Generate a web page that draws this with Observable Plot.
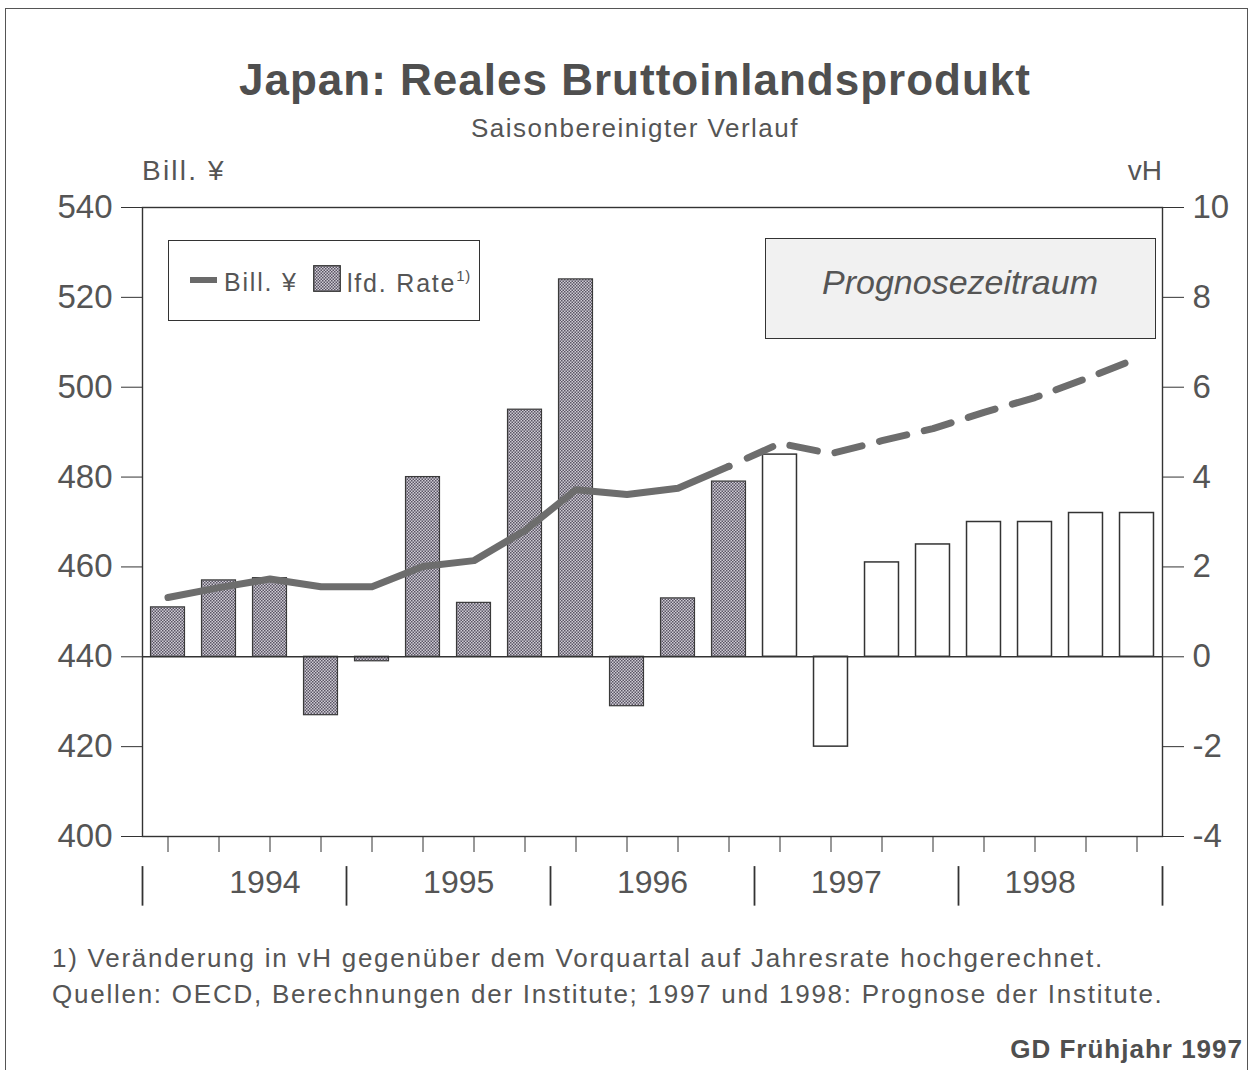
<!DOCTYPE html>
<html>
<head>
<meta charset="utf-8">
<script src="https://cdn.jsdelivr.net/npm/d3@7"></script>
<script src="https://cdn.jsdelivr.net/npm/@observablehq/plot@0.6"></script>
<style>
  body { margin: 0; background: #fff; }
  #wrap { position: relative; width: 1254px; height: 1070px; overflow: hidden;
          font-family: "Liberation Sans", Arial, sans-serif; color: #555; background: #fff; }
  .t { position: absolute; white-space: nowrap; line-height: 1; }
  #chart { position: absolute; left: 0; top: 0; }
  #border { position: absolute; left: 5px; top: 8px; width: 1243px; height: 1100px;
            border: 1.5px solid #555; box-sizing: border-box; }
  #legend { position: absolute; left: 168px; top: 240px; width: 312px; height: 81px;
            border: 1.5px solid #333; box-sizing: border-box; background: #fff; }
  #prog { position: absolute; left: 765px; top: 238px; width: 391px; height: 101px;
          border: 1.5px solid #333; box-sizing: border-box; background: #f1f1f1; }
</style>
</head>
<body>
<div id="wrap">
  <div id="border"></div>
  <div id="chart"></div>
  <div class="t" id="title" style="left:0;width:1270px;text-align:center;top:58px;font-size:44px;font-weight:bold;letter-spacing:1px;color:#4f4f4f;">Japan: Reales Bruttoinlandsprodukt</div>
  <div class="t" id="subtitle" style="left:0;width:1270px;text-align:center;top:115px;font-size:26px;letter-spacing:1.5px;">Saisonbereinigter Verlauf</div>
  <div class="t" style="left:142px;top:157px;font-size:28px;letter-spacing:2.2px;">Bill. ¥</div>
  <div class="t" style="left:1100px;width:62px;text-align:right;top:157px;font-size:28px;">vH</div>
  <div id="legend">
    <div style="position:absolute;left:21px;top:36px;width:27px;height:6px;background:#6a6a6a;"></div>
    <div class="t" style="left:55px;top:29px;font-size:25px;letter-spacing:1.8px;">Bill. ¥</div>
    <svg style="position:absolute;left:144px;top:24px;" width="28" height="27">
      <defs>
        <pattern id="dotsL" width="3" height="3" patternUnits="userSpaceOnUse">
          <rect width="3" height="3" fill="#cfccd4"></rect>
          <rect width="1.5" height="1.5" fill="#5a5464"></rect>
          <rect x="1.5" y="1.5" width="1.5" height="1.5" fill="#5a5464"></rect>
        </pattern>
      </defs>
      <rect x="0.75" y="0.75" width="26.5" height="25.5" fill="url(#dotsL)" stroke="#333" stroke-width="1.3"></rect>
    </svg>
    <div class="t" style="left:178px;top:29px;font-size:25px;letter-spacing:1.8px;">lfd. Rate<sup style="font-size:15px;position:relative;top:-2px;letter-spacing:0.5px;">1)</sup></div>
  </div>
  <div id="prog">
    <div class="t" style="left:0;width:388px;text-align:center;top:26px;font-size:34px;font-style:italic;color:#555;">Prognosezeitraum</div>
  </div>
  <div class="t" style="left:52px;top:945px;font-size:26px;letter-spacing:1.75px;">1) Veränderung in vH gegenüber dem Vorquartal auf Jahresrate hochgerechnet.</div>
  <div class="t" style="left:52px;top:981px;font-size:26px;letter-spacing:1.75px;">Quellen: OECD, Berechnungen der Institute; 1997 und 1998: Prognose der Institute.</div>
  <div class="t" style="left:0;width:1243px;text-align:right;top:1036px;font-size:26px;font-weight:bold;letter-spacing:1px;color:#4f4f4f;">GD Frühjahr 1997</div>
</div>
<script>
// ---- data ----
const years = [1994, 1995, 1996, 1997, 1998];
const quarterNames = ["I", "II", "III", "IV"];
// real GDP, trillion yen (left axis)
const bill = [453.2, 455.4, 457.3, 455.6, 455.6, 460.1, 461.4, 468.1,
              477.2, 476.1, 477.5, 482.4, 487.5, 485.2, 488.1, 490.8,
              494.4, 497.7, 501.9, 506.4];
// annualised quarter-on-quarter rate, vH (right axis)
const rate = [1.1, 1.7, 1.75, -1.3, -0.1, 4.0, 1.2, 5.5,
              8.4, -1.1, 1.3, 3.9, 4.5, -2.0, 2.1, 2.5,
              3.0, 3.0, 3.2, 3.2];
const forecastFromYear = 1997;
const leftTicks = [400, 420, 440, 460, 480, 500, 520, 540];
const rightTicks = [-4, -2, 0, 2, 4, 6, 8, 10];

// ---- table ----
const rows = [];
years.forEach((y, yi) => quarterNames.forEach((q, qi) => {
  const i = yi * 4 + qi;
  rows.push({i, year: y, quarter: q, bill: bill[i], rate: rate[i], forecast: y >= forecastFromYear});
}));
const hist = rows.filter(d => !d.forecast);
const fc = rows.filter(d => d.forecast);
const lastHist = hist[hist.length - 1];
const lineFc = [lastHist, ...fc];
// left axis value -> shared (vH) scale
const toRate = v => (v - 440) / 10;
const barPad = 0.167;

const chart = Plot.plot({
  width: 1254,
  height: 1070,
  marginLeft: 142,
  marginRight: 92,
  marginTop: 207,
  marginBottom: 234,
  x: {domain: [0, rows.length], axis: null},
  y: {domain: [-4, 10], axis: null},
  style: {fontFamily: "Liberation Sans, Arial, sans-serif", color: "#555", background: "transparent", overflow: "visible"},
  marks: [
    Plot.rectY(hist, {x1: d => d.i + barPad, x2: d => d.i + 1 - barPad, y1: 0, y2: "rate",
      fill: "url(#dots)", stroke: "#3a3a3a", strokeWidth: 1.2}),
    Plot.rectY(fc, {x1: d => d.i + barPad, x2: d => d.i + 1 - barPad, y1: 0, y2: "rate",
      fill: "white", stroke: "#333", strokeWidth: 1.5}),
    Plot.ruleY([0], {stroke: "#333", strokeWidth: 1.6}),
    Plot.frame({stroke: "#333", strokeWidth: 1.4}),
    Plot.lineY(hist, {x: d => d.i + 0.5, y: d => toRate(d.bill), stroke: "#6d6d6d", strokeWidth: 7, strokeLinejoin: "round"}),
    Plot.lineY(lineFc, {x: d => d.i + 0.5, y: d => toRate(d.bill), stroke: "#6d6d6d", strokeWidth: 7,
      strokeDasharray: "0,20,28,18,28,18,28,18,28,18,28,18,28,18,28,18,28,18,28,18,28,18,28,18,28,18,28,18,28,18"}),
    Plot.axisY(leftTicks.map(toRate), {anchor: "left", label: null, tickSize: 21, tickPadding: 9,
      tickFormat: d => String(440 + 10 * d), fontSize: 33, stroke: "#333", fill: "#555"}),
    Plot.axisY(rightTicks, {anchor: "right", label: null, tickSize: 21, tickPadding: 9,
      tickFormat: d => String(d), fontSize: 33, stroke: "#333", fill: "#555"}),
    Plot.axisX(rows.map(d => d.i + 0.5), {anchor: "bottom", label: null, tickSize: 16, tickFormat: () => "", stroke: "#333"}),
    Plot.ruleX(d3.range(0, rows.length + 1, 4), {y1: -4.67, y2: -5.55, stroke: "#333", strokeWidth: 1.8}),
    // year labels sit slightly inward of each year's centre, as in the original layout
    Plot.text(years, {x: (d, i) => 4 * i + 2 + (2 - i) * 0.2, frameAnchor: "bottom", dy: 56, text: d => String(d),
      fontSize: 32, fill: "#555"})
  ]
});

const defs = d3.select(chart).insert("defs", ":first-child");
const pat = defs.append("pattern").attr("id", "dots").attr("width", 3).attr("height", 3)
  .attr("patternUnits", "userSpaceOnUse");
pat.append("rect").attr("width", 3).attr("height", 3).attr("fill", "#cfccd4");
pat.append("rect").attr("width", 1.5).attr("height", 1.5).attr("fill", "#5a5464");
pat.append("rect").attr("x", 1.5).attr("y", 1.5).attr("width", 1.5).attr("height", 1.5).attr("fill", "#5a5464");

document.getElementById("chart").appendChild(chart);
</script>
</body>
</html>
